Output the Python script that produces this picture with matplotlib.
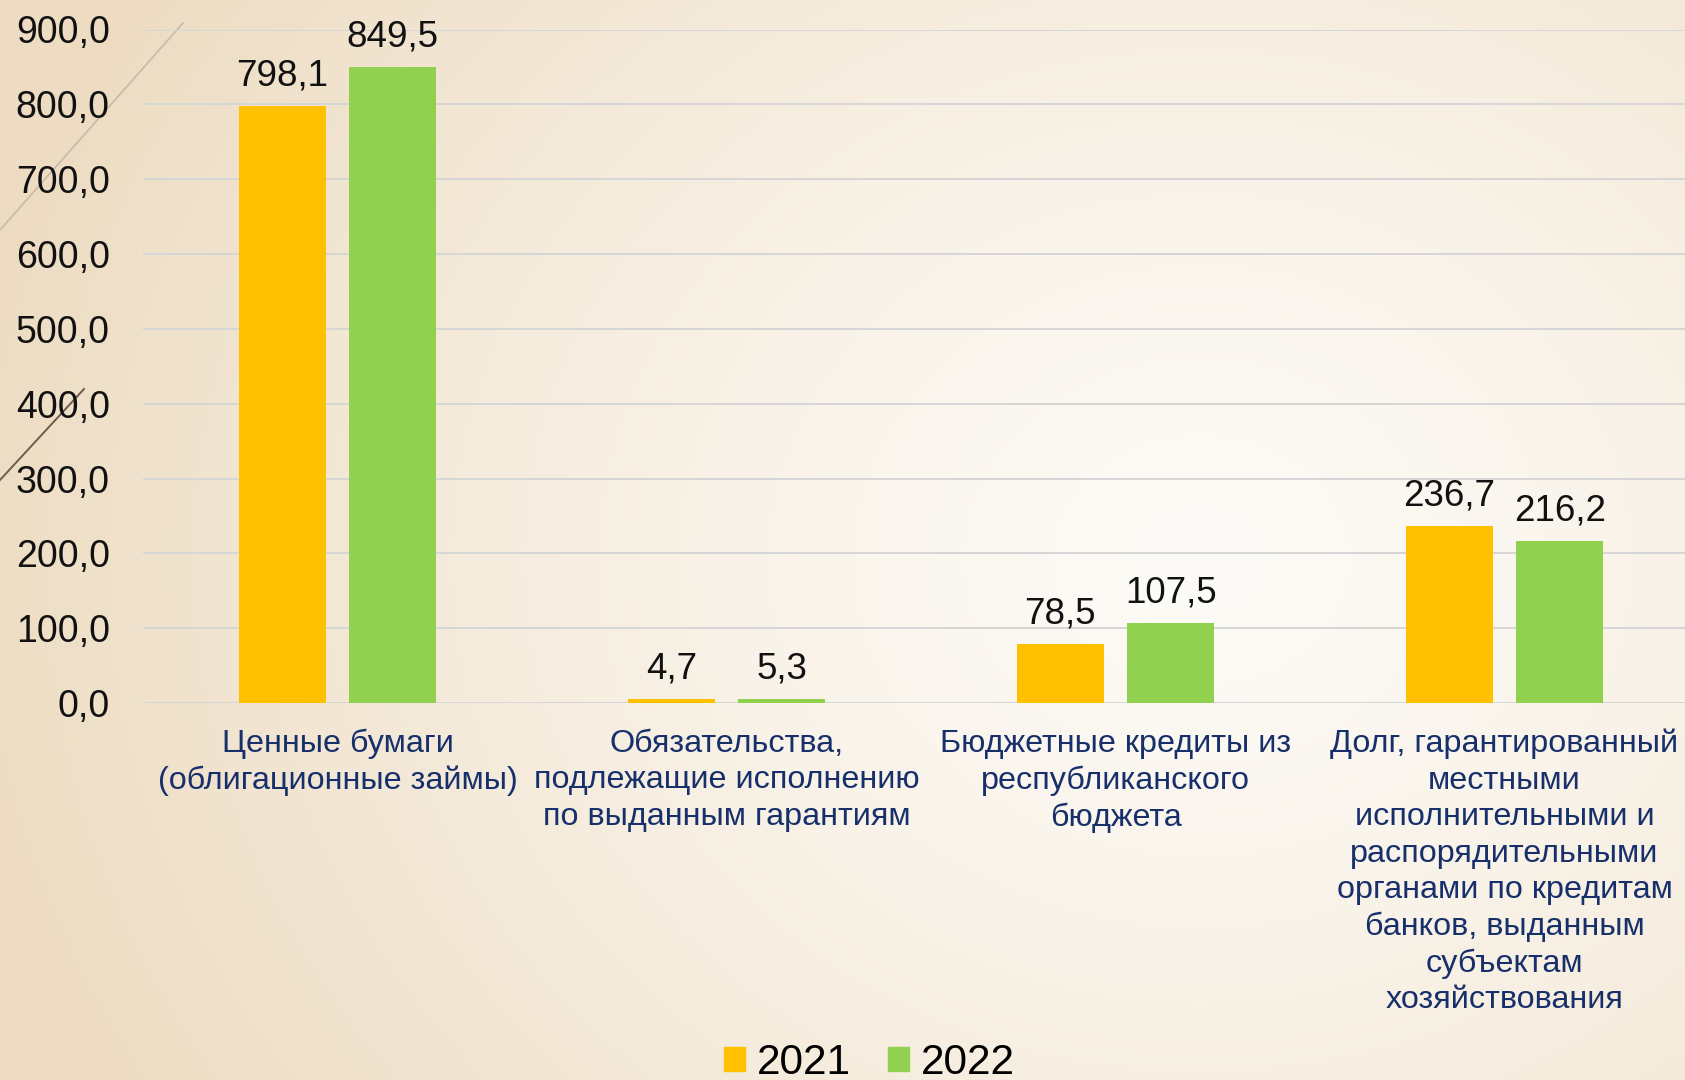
import numpy as np
import matplotlib.pyplot as plt
from matplotlib.patches import Patch
from matplotlib.colors import to_rgb

categories = [
    'Ценные бумаги\n(облигационные займы)',
    'Обязательства,\nподлежащие исполнению\nпо выданным гарантиям',
    'Бюджетные кредиты из\nреспубликанского\nбюджета',
    'Долг, гарантированный\nместными\nисполнительными и\nраспорядительными\nорганами по кредитам\nбанков, выданным\nсубъектам\nхозяйствования',
]
values_2021 = [798.1, 4.7, 78.5, 236.7]
values_2022 = [849.5, 5.3, 107.5, 216.2]
series_names = ['2021', '2022']

plt.rcParams['font.family'] = ['Liberation Sans', 'DejaVu Sans']

W, H = 1685, 1080
fig = plt.figure(figsize=(W / 100, H / 100), dpi=100)

# background: soft radial gradient, light in the middle-right, beige at the edges
bg = fig.add_axes([0, 0, 1, 1], zorder=-10)
yy, xx = np.mgrid[0:H, 0:W]
d = np.sqrt(((xx - 1200) / 1.0) ** 2 + ((yy - 560) / 0.85) ** 2)
t = np.clip(d / 1250, 0, 1) ** 1.3
light = np.array(to_rgb('#fdfbf7'))
dark = np.array(to_rgb('#eddcc2'))
img = light[None, None, :] * (1 - t[..., None]) + dark[None, None, :] * t[..., None]
bg.imshow(img, extent=[0, W, H, 0], aspect='auto')
bg.set_xlim(0, W)
bg.set_ylim(H, 0)
bg.axis('off')

# decorative slanted lines on the left
bg.plot([0, 183], [230, 23], color='#c9b9a6', lw=1.2)
bg.plot([0, 84], [480, 389], color='#6e5a4e', lw=1.4)

left, right = 143, 1699
bottom, top = 703, 29.5
ax = fig.add_axes([left / W, (H - bottom) / H, (right - left) / W, (bottom - top) / H])
ax.patch.set_alpha(0)

x = np.arange(len(categories))
w = 0.224
off = 0.142
b1 = ax.bar(x - off, values_2021, w, color='#ffc000', zorder=3)
b2 = ax.bar(x + off, values_2022, w, color='#92d050', zorder=3)

for bars in (b1, b2):
    for rect in bars:
        v = rect.get_height()
        ax.annotate(f'{v:.1f}'.replace('.', ','),
                    (rect.get_x() + rect.get_width() / 2, v),
                    xytext=(0, 9), textcoords='offset points',
                    ha='center', va='bottom', fontsize=26.5, color='#111111')

ax.set_xlim(-0.5, len(categories) - 0.5)
ax.set_ylim(0, 900)
ax.set_yticks(np.arange(0, 901, 100))
ax.set_yticklabels([f'{v:.1f}'.replace('.', ',') for v in np.arange(0, 901, 100)])
ax.yaxis.grid(True, color='#d6d6d6', lw=1.4, zorder=0)
ax.set_axisbelow(True)
for s in ax.spines.values():
    s.set_visible(False)
ax.tick_params(axis='y', length=0, pad=24, labelsize=27, labelcolor='#111111')

ax.set_xticks(x)
ax.set_xticklabels(categories, fontsize=23.3, color='#17306b', linespacing=1.28)
ax.tick_params(axis='x', length=0, pad=18.5)

handles = [Patch(color='#ffc000'), Patch(color='#92d050')]
fig.legend(handles, series_names, loc='center', bbox_to_anchor=(0.516, 0.016),
           ncol=2, frameon=False, fontsize=30.5, handlelength=0.5, handleheight=0.5,
           handletextpad=0.28, columnspacing=0.86, borderpad=0)

fig.savefig('out.png', dpi=100)
